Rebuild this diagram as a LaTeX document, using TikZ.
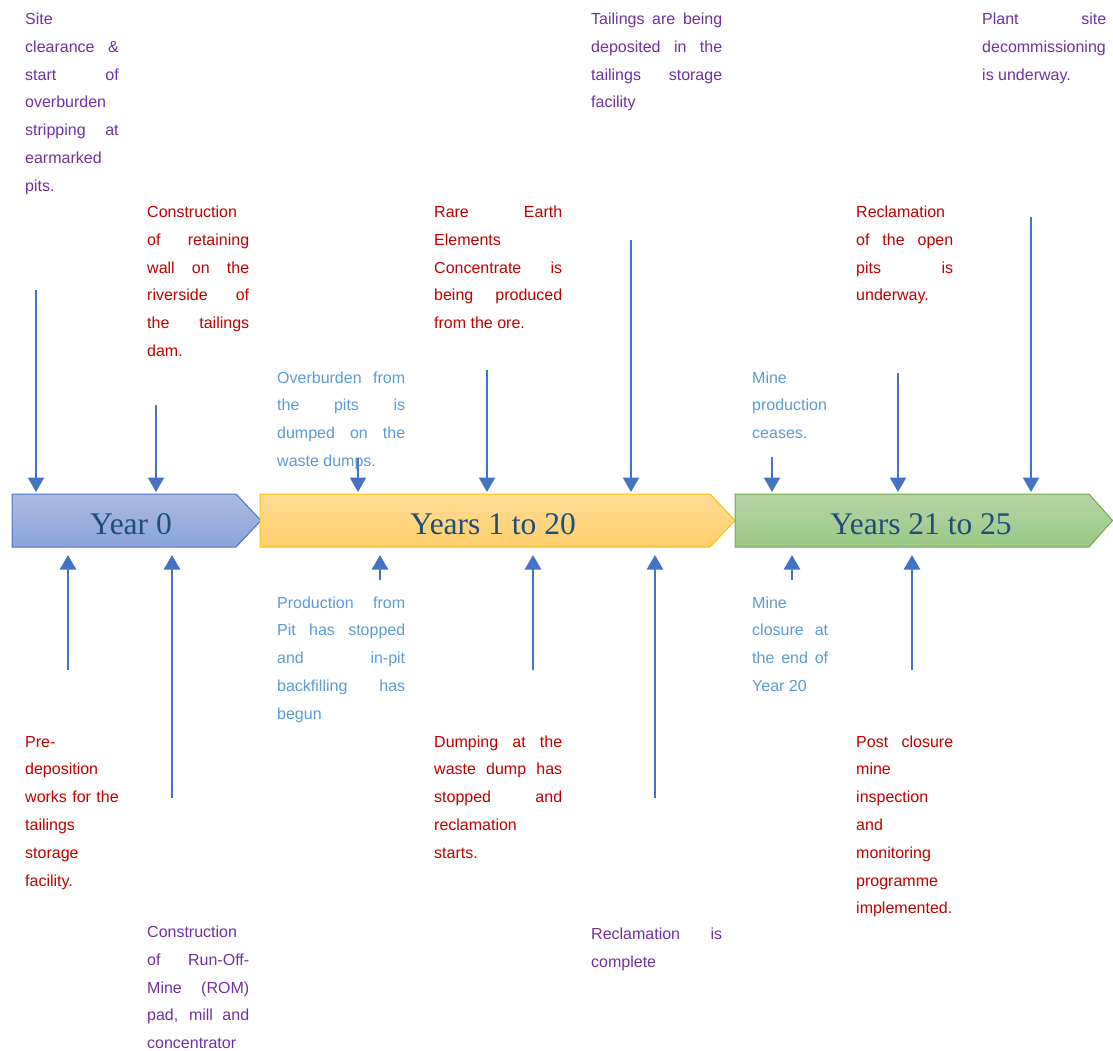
\documentclass[tikz,border=0pt]{standalone}
\usepackage{fontspec}
\setmainfont{Liberation Sans}
\newfontfamily\yearfont{Liberation Serif}
\usetikzlibrary{arrows.meta}
\tolerance=10000
\hbadness=10000
\definecolor{notepurple}{RGB}{112,48,160}
\definecolor{notered}{RGB}{192,0,0}
\definecolor{notelightblue}{RGB}{91,155,213}
\definecolor{arrowblue}{RGB}{68,114,196}
\definecolor{yeartext}{RGB}{31,78,121}
\definecolor{bluetop}{RGB}{171,187,226}
\definecolor{bluebottom}{RGB}{138,163,217}
\definecolor{blueedge}{RGB}{74,116,199}
\definecolor{yellowtop}{RGB}{255,220,150}
\definecolor{yellowbottom}{RGB}{255,207,107}
\definecolor{yellowedge}{RGB}{255,192,0}
\definecolor{greentop}{RGB}{181,213,165}
\definecolor{greenbottom}{RGB}{155,199,134}
\definecolor{greenedge}{RGB}{112,173,71}

\begin{document}
\begin{tikzpicture}[
	x=1pt, y=-1pt,
	note/.style={anchor=base west, inner sep=0pt, align=justify, font={\fontsize{16}{27.8}\selectfont}},
	flow/.style={draw=arrowblue, line width=2.6pt, -{Triangle[width=16pt,length=14.5pt]}},
	year/.style={anchor=base, inner sep=0pt, text=yeartext, font={\yearfont\fontsize{31.5}{36}\selectfont}}
	]
	
	\useasboundingbox (0, 0) rectangle (1113, 1050);
	
	\draw [line width=1pt, draw=blueedge, top color=bluetop, bottom color=bluebottom] (12, 494) -- (236, 494) -- (261, 520.5) -- (236, 547) -- (12, 547) -- cycle;
	\draw [line width=1pt, draw=yellowedge, top color=yellowtop, bottom color=yellowbottom] (260, 494) -- (710, 494) -- (735, 520.5) -- (710, 547) -- (260, 547) -- cycle;
	\draw [line width=1pt, draw=greenedge, top color=greentop, bottom color=greenbottom] (735, 494) -- (1089, 494) -- (1112.5, 520.5) -- (1089, 547) -- (735, 547) -- cycle;
	\node (year0) at (131, 534) [year] {Year 0};
	\node (years1) at (493, 534) [year] {Years 1 to 20};
	\node (years21) at (921, 534) [year] {Years 21 to 25};
	
	\node (clearance) at (25, 24.5) [note, text width=93.5pt, text=notepurple] {Site\linebreak clearance \&\linebreak start of\linebreak overburden\linebreak stripping at\linebreak earmarked\linebreak pits.};
	\node (wall) at (147, 217.5) [note, text width=102pt, text=notered] {Construction\linebreak of retaining\linebreak wall on the\linebreak riverside of\linebreak the tailings\linebreak dam.};
	\node (dumps) at (277, 383) [note, text width=128pt, text=notelightblue] {Overburden from\linebreak the pits is\linebreak dumped on the\linebreak waste dumps.};
	\node (concentrate) at (434, 217.5) [note, text width=128pt, text=notered] {Rare Earth\linebreak Elements\linebreak Concentrate is\linebreak being produced\linebreak from the ore.};
	\node (tailings) at (591, 24.5) [note, text width=131pt, text=notepurple] {Tailings are being\linebreak deposited in the\linebreak tailings storage\linebreak facility};
	\node (ceases) at (752, 383) [note, text width=76pt, text=notelightblue] {Mine\linebreak production\linebreak ceases.};
	\node (openpits) at (856, 217.5) [note, text width=97pt, text=notered] {Reclamation\linebreak of the open\linebreak pits is\linebreak underway.};
	\node (decommission) at (982, 24.5) [note, text width=124pt, text=notepurple] {Plant site\linebreak decommissioning\linebreak is underway.};
	
	\node (backfill) at (277, 608) [note, text width=128pt, text=notelightblue] {Production from\linebreak Pit has stopped\linebreak and in-pit\linebreak backfilling has\linebreak begun};
	\node (closure) at (752, 608) [note, text width=76pt, text=notelightblue] {Mine\linebreak closure at\linebreak the end of\linebreak Year 20};
	\node (predeposition) at (25, 747) [note, text width=93.5pt, text=notered] {Pre-\linebreak deposition\linebreak works for the\linebreak tailings\linebreak storage\linebreak facility.};
	\node (dumping) at (434, 747) [note, text width=128pt, text=notered] {Dumping at the\linebreak waste dump has\linebreak stopped and\linebreak reclamation\linebreak starts.};
	\node (monitoring) at (856, 747) [note, text width=97pt, text=notered] {Post closure\linebreak mine\linebreak inspection\linebreak and\linebreak monitoring\linebreak programme\linebreak implemented.};
	\node (rom) at (147, 937.5) [note, text width=102pt, text=notepurple] {Construction\linebreak of Run-Off-\linebreak Mine (ROM)\linebreak pad, mill and\linebreak concentrator};
	\node (complete) at (591, 939.5) [note, text width=131pt, text=notepurple] {Reclamation is\linebreak complete};
	
	\coordinate (bartop) at (0, 492);
	\coordinate (barbottom) at (0, 555);
	\coordinate (t1) at (36, 290);
	\coordinate (t2) at (156, 405);
	\coordinate (t3) at (358, 458);
	\coordinate (t4) at (487, 370);
	\coordinate (t5) at (631, 240);
	\coordinate (t6) at (772, 457);
	\coordinate (t7) at (898, 373);
	\coordinate (t8) at (1031, 217);
	\draw [flow] (t1) -- (t1 |- bartop);
	\draw [flow] (t2) -- (t2 |- bartop);
	\draw [flow] (t3) -- (t3 |- bartop);
	\draw [flow] (t4) -- (t4 |- bartop);
	\draw [flow] (t5) -- (t5 |- bartop);
	\draw [flow] (t6) -- (t6 |- bartop);
	\draw [flow] (t7) -- (t7 |- bartop);
	\draw [flow] (t8) -- (t8 |- bartop);
	
	\coordinate (b1) at (68, 670);
	\coordinate (b2) at (172, 798);
	\coordinate (b3) at (380, 580);
	\coordinate (b4) at (533, 670);
	\coordinate (b5) at (655, 798);
	\coordinate (b6) at (792, 580);
	\coordinate (b7) at (912, 670);
	\draw [flow] (b1) -- (b1 |- barbottom);
	\draw [flow] (b2) -- (b2 |- barbottom);
	\draw [flow] (b3) -- (b3 |- barbottom);
	\draw [flow] (b4) -- (b4 |- barbottom);
	\draw [flow] (b5) -- (b5 |- barbottom);
	\draw [flow] (b6) -- (b6 |- barbottom);
	\draw [flow] (b7) -- (b7 |- barbottom);
\end{tikzpicture}
\end{document}
